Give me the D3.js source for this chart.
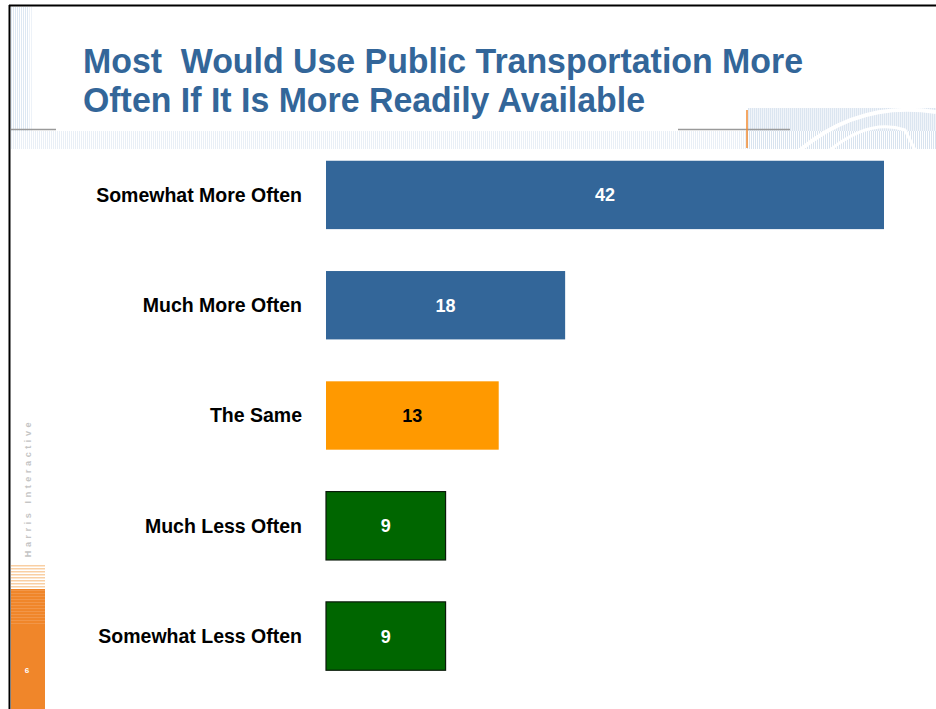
<!DOCTYPE html>
<html><head><meta charset="utf-8">
<script src="https://cdn.jsdelivr.net/npm/d3@7"></script>
<style>body{margin:0;background:#fff}svg{display:block}</style>
</head><body>
<svg id="c" width="936" height="709"></svg>
<script>
const categories = ["Somewhat More Often","Much More Often","The Same","Much Less Often","Somewhat Less Often"];
const values = [42,18,13,9,9];
const barColors = ["#336699","#336699","#FF9900","#006600","#006600"];
const labelColors = ["#ffffff","#ffffff","#000000","#ffffff","#ffffff"];
const titleLines = ["Most  Would Use Public Transportation More","Often If It Is More Readily Available"];
const titleWidths = [720, 562];

const svg = d3.select("#c");
const F = "Arial, 'Liberation Sans', Helvetica, sans-serif";

// decorative background
const deco = svg.append("g");
for (let x = 11; x < 33; x += 2) {
  deco.append("rect").attr("x", x).attr("y", 7).attr("width", 1).attr("height", 142)
    .attr("fill", x < 28 ? "#dde8f3" : "#edf2f8");
}
for (let x = 11; x < 936; x += 2) {
  deco.append("rect").attr("x", x).attr("y", 131).attr("width", 1).attr("height", 18)
    .attr("fill", x > 745 ? "#d8e3ef" : "#e9eff6");
}
deco.append("rect").attr("x", 748).attr("y", 108).attr("width", 188).attr("height", 23).attr("fill", "#f0f4f9");
for (let x = 748; x < 936; x += 2) {
  deco.append("rect").attr("x", x).attr("y", 108).attr("width", 1).attr("height", 23).attr("fill", "#dbe5f0");
}
deco.append("path").attr("d", "M800,150 Q860,100 936,112").attr("fill", "none").attr("stroke", "#fff").attr("stroke-width", 4);
deco.append("path").attr("d", "M830,150 Q870,118 905,130 L915,150").attr("fill", "none").attr("stroke", "#fff").attr("stroke-width", 3);
deco.append("line").attr("x1", 11).attr("x2", 56).attr("y1", 129.5).attr("y2", 129.5).attr("stroke", "#9a9a9a").attr("stroke-width", 1.5);
deco.append("line").attr("x1", 678).attr("x2", 790).attr("y1", 129.5).attr("y2", 129.5).attr("stroke", "#9a9a9a").attr("stroke-width", 1.5);
deco.append("line").attr("x1", 747).attr("x2", 747).attr("y1", 110).attr("y2", 148).attr("stroke", "#f08a30").attr("stroke-width", 1.5);

// left orange strip
for (let i = 0; i < 8; i++) {
  deco.append("rect").attr("x", 11).attr("y", 565 + i * 3).attr("width", 34).attr("height", 1.5).attr("fill", "#f9cfa3");
}
deco.append("rect").attr("x", 11).attr("y", 589).attr("width", 34).attr("height", 120).attr("fill", "#f0862a");
for (let i = 0; i < 12; i++) {
  deco.append("rect").attr("x", 11).attr("y", 590 + i * 3).attr("width", 34).attr("height", 1).attr("fill", "#f4a25e").attr("opacity", 0.6);
}
deco.append("text").attr("x", 27).attr("y", 673).attr("text-anchor", "middle")
  .attr("font-family", F).attr("font-size", 8).attr("font-weight", "bold").attr("fill", "#fff").text("6");
deco.append("text").attr("transform", "translate(31,488) rotate(-90)").attr("text-anchor", "middle")
  .attr("font-family", F).attr("font-size", 9).attr("font-weight", "bold").attr("letter-spacing", 3.6).attr("fill", "#c4c4c4").text("Harris Interactive");

// frame lines
svg.append("line").attr("x1", 9.5).attr("x2", 9.5).attr("y1", 5).attr("y2", 709).attr("stroke", "#000").attr("stroke-width", 2);
svg.append("line").attr("x1", 9).attr("x2", 936).attr("y1", 5.5).attr("y2", 5.5).attr("stroke", "#000").attr("stroke-width", 2);

// title
svg.append("g").selectAll("text").data(titleLines).join("text")
  .attr("x", 83).attr("y", (d, i) => 73 + i * 39)
  .attr("font-family", F).attr("font-size", 35).attr("font-weight", "bold").attr("fill", "#336699")
  .attr("textLength", (d, i) => titleWidths[i]).attr("lengthAdjust", "spacingAndGlyphs")
  .style("white-space", "pre")
  .text(d => d);

// chart
const x = d3.scaleLinear().domain([0, 42]).range([326, 884]);
const y = d3.scaleBand().domain(categories).range([142, 689]).paddingInner(0.38).paddingOuter(0.17);

const g = svg.append("g");
g.selectAll("rect.bar").data(categories).join("rect").attr("class", "bar")
  .attr("x", x(0)).attr("y", d => y(d))
  .attr("width", (d, i) => x(values[i]) - x(0)).attr("height", y.bandwidth())
  .attr("fill", (d, i) => barColors[i])
  .attr("stroke", (d, i) => i >= 3 ? "#0a1a0a" : "none").attr("stroke-width", 1.2);

g.selectAll("text.val").data(categories).join("text").attr("class", "val")
  .attr("x", (d, i) => (x(0) + x(values[i])) / 2).attr("y", d => y(d) + y.bandwidth() / 2 + 6.5)
  .attr("text-anchor", "middle").attr("font-family", F).attr("font-size", 18).attr("font-weight", "bold")
  .attr("fill", (d, i) => labelColors[i]).text((d, i) => values[i]);

const yAxis = d3.axisLeft(y).tickSize(0).tickPadding(0);
const ag = g.append("g").attr("transform", "translate(302,0)").call(yAxis);
ag.select(".domain").remove();
ag.selectAll("text").attr("font-family", F).attr("font-size", 19.5).attr("font-weight", "bold").attr("fill", "#000").attr("dy", "0.35em");
</script>
</body></html>
